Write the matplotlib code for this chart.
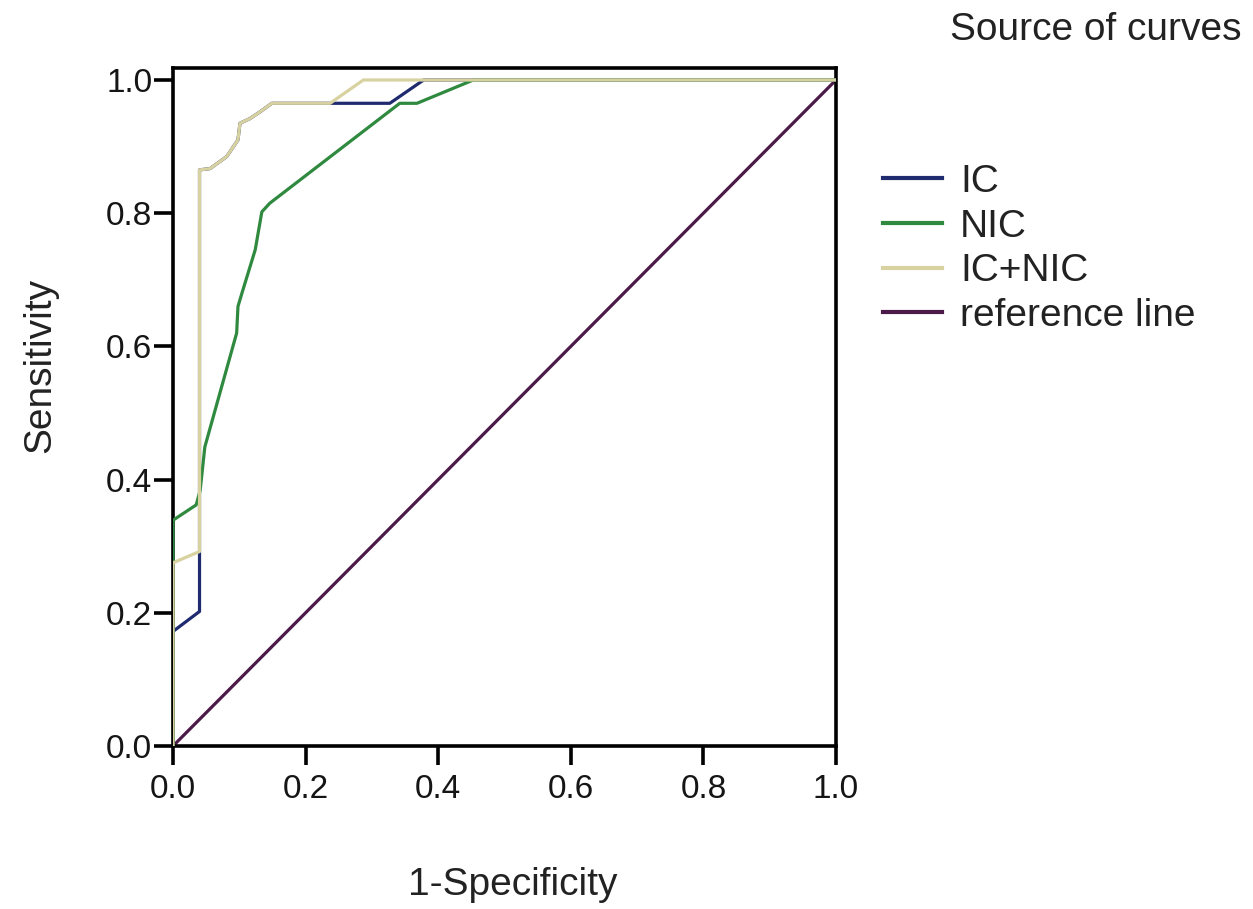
import matplotlib
matplotlib.use("Agg")
import matplotlib.pyplot as plt

plt.rcParams['font.family'] = ['Liberation Sans', 'DejaVu Sans']

# ROC curve points (1-Specificity, Sensitivity)
ic_fpr = [0.0, 0.0, 0.04, 0.04, 0.056, 0.081, 0.098, 0.101, 0.116, 0.131, 0.149, 0.237, 0.327, 0.378, 1.0]
ic_tpr = [0.0, 0.172, 0.202, 0.865, 0.867, 0.885, 0.910, 0.935, 0.942, 0.952, 0.965, 0.965, 0.965, 1.0, 1.0]

nic_fpr = [0.0, 0.0, 0.035, 0.041, 0.048, 0.096, 0.098, 0.104, 0.124, 0.134, 0.146, 0.342, 0.368, 0.453, 1.0]
nic_tpr = [0.0, 0.339, 0.362, 0.384, 0.449, 0.620, 0.660, 0.680, 0.745, 0.802, 0.815, 0.965, 0.965, 1.0, 1.0]

comb_fpr = [0.0, 0.0, 0.04, 0.04, 0.056, 0.081, 0.098, 0.101, 0.116, 0.131, 0.149, 0.237, 0.287, 1.0]
comb_tpr = [0.0, 0.275, 0.292, 0.865, 0.867, 0.885, 0.910, 0.935, 0.942, 0.952, 0.965, 0.965, 1.0, 1.0]

ref_x = [0.0, 1.0]
ref_y = [0.0, 1.0]

series_labels = ["IC", "NIC", "IC+NIC", "reference line"]
series_colors = ["#1f2b6e", "#2f8a3f", "#d8d2a0", "#4c1a48"]
tick_vals = [0.0, 0.2, 0.4, 0.6, 0.8, 1.0]
tick_labels = ["0.0", "0.2", "0.4", "0.6", "0.8", "1.0"]

W, H = 1253, 909
fig = plt.figure(figsize=(W / 100, H / 100), dpi=100)
ax = fig.add_axes([173 / W, 1 - 746 / H, (836 - 173) / W, (746 - 68) / H])

lw = 2.3
l_ref, = ax.plot(ref_x, ref_y, color=series_colors[3], lw=lw, zorder=2)
l_ic, = ax.plot(ic_fpr, ic_tpr, color=series_colors[0], lw=lw, zorder=3)
l_nic, = ax.plot(nic_fpr, nic_tpr, color=series_colors[1], lw=lw, zorder=4)
l_comb, = ax.plot(comb_fpr, comb_tpr, color=series_colors[2], lw=lw, zorder=5)

ax.set_xlim(0, 1.0)
ax.set_ylim(0, 1.018)
ax.set_xticks(tick_vals)
ax.set_xticklabels(tick_labels)
ax.set_yticks(tick_vals)
ax.set_yticklabels(tick_labels)
for s in ax.spines.values():
    s.set_linewidth(2.6)
    s.set_color("black")
ax.tick_params(axis='both', direction='out', length=14, width=2.6, labelsize=24, colors='black')
ax.tick_params(axis='y', pad=1)
ax.tick_params(axis='x', pad=6)
for t in ax.get_xticklabels() + ax.get_yticklabels():
    t.set_color("#151515")

fig.text(40 / W, 1 - 365 / H, "Sensitivity", rotation=90, ha='center', va='center',
         fontsize=28, color="#222222")
fig.text(513 / W, 1 - 885 / H, "1-Specificity", ha='center', va='center',
         fontsize=28, color="#222222")
fig.text(1242 / W, 1 - 30 / H, "Source of curves", ha='right', va='center',
         fontsize=28, color="#222222")

leg = fig.legend([l_ic, l_nic, l_comb, l_ref], series_labels,
                 loc='upper left', bbox_to_anchor=(883 / W, 1 - 164 / H),
                 frameon=False, fontsize=28, handlelength=1.52, handletextpad=0.46,
                 labelspacing=0.22, borderaxespad=0, borderpad=0)
for t in leg.get_texts():
    t.set_color("#222222")
for h in leg.legend_handles:
    h.set_linewidth(3)

fig.savefig("out.png", dpi=100, facecolor="white")
